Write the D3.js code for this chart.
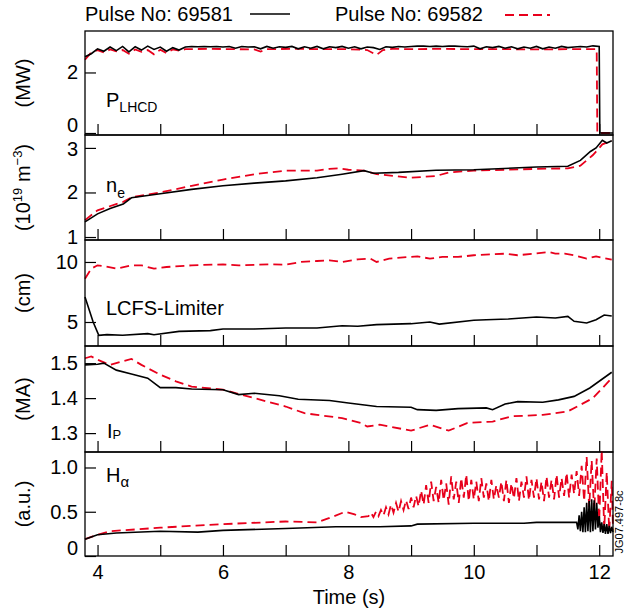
<!DOCTYPE html>
<html>
<head>
<meta charset="utf-8">
<script src="https://cdn.jsdelivr.net/npm/d3@7"></script>
<style>
	body { margin: 0; background: #fff; }
	text { font-family: 'Liberation Sans', Arial, Helvetica, sans-serif; fill: #000; }
</style>
</head>
<body>
<div id="viz"></div>
<script>
// time axis
var timeTicks = [4, 5, 6, 7, 8, 9, 10, 11, 12];
var timeDomain = [3.8, 12.22];

var pulseNames = ['Pulse No: 69581', 'Pulse No: 69582'];

// P_LHCD (MW), [time, value]
var plhcd69581 = [
	[3.8, 2.52], [3.9, 2.62], [4.0, 2.78], [4.1, 2.70], [4.2, 2.84], [4.3, 2.72], [4.4, 2.86], [4.5, 2.68],
	[4.6, 2.85], [4.7, 2.74], [4.8, 2.87], [4.9, 2.76], [5.0, 2.84], [5.1, 2.70], [5.2, 2.82], [5.3, 2.74],
	[5.4, 2.84], [5.5, 2.86], [5.6, 2.85], [5.7, 2.86], [5.8, 2.85], [5.9, 2.86], [6.0, 2.84], [6.1, 2.86],
	[6.2, 2.80], [6.3, 2.86], [6.4, 2.84], [6.5, 2.85], [6.6, 2.78], [6.7, 2.86], [6.8, 2.80], [6.9, 2.85],
	[7.0, 2.83], [7.1, 2.86], [7.2, 2.78], [7.3, 2.85], [7.4, 2.80], [7.5, 2.86], [7.6, 2.78], [7.7, 2.85],
	[7.8, 2.82], [7.9, 2.86], [8.0, 2.80], [8.1, 2.85], [8.2, 2.78], [8.3, 2.84], [8.4, 2.82], [8.5, 2.76],
	[8.6, 2.85], [8.7, 2.83], [8.8, 2.86], [8.9, 2.84], [9.0, 2.86], [9.1, 2.87], [9.2, 2.87], [9.3, 2.86],
	[9.4, 2.87], [9.5, 2.86], [9.6, 2.87], [9.7, 2.87], [9.8, 2.86], [9.9, 2.85], [10.0, 2.87], [10.1, 2.78],
	[10.2, 2.85], [10.3, 2.82], [10.4, 2.86], [10.5, 2.80], [10.6, 2.85], [10.7, 2.78], [10.8, 2.84], [10.9, 2.80],
	[11.0, 2.86], [11.1, 2.78], [11.2, 2.84], [11.3, 2.80], [11.4, 2.86], [11.5, 2.82], [11.6, 2.84], [11.7, 2.86],
	[11.8, 2.84], [11.9, 2.88], [12.0, 2.86], [12.01, 0], [12.22, 0]
];
var plhcd69582 = [
	[3.8, 2.42], [3.9, 2.66], [4.0, 2.74], [4.1, 2.66], [4.2, 2.76], [4.3, 2.70], [4.4, 2.74], [4.5, 2.62],
	[4.6, 2.76], [4.7, 2.68], [4.8, 2.74], [4.9, 2.60], [5.0, 2.75], [5.1, 2.64], [5.2, 2.76], [5.3, 2.72],
	[5.4, 2.77], [5.8, 2.78], [6.2, 2.77], [6.5, 2.76], [6.6, 2.69], [6.7, 2.77], [7.2, 2.78], [7.6, 2.77],
	[8.0, 2.77], [8.3, 2.74], [8.45, 2.58], [8.55, 2.74], [8.7, 2.78], [9.0, 2.77], [9.5, 2.78], [10.0, 2.77],
	[10.5, 2.77], [11.0, 2.76], [11.5, 2.77], [11.96, 2.77], [11.97, 0], [12.22, 0]
];

// n_e (10^19 m^-3)
var ne69581 = [
	[3.8, 1.34], [4.0, 1.52], [4.2, 1.64], [4.41, 1.74], [4.54, 1.88], [5.0, 1.97], [5.5, 2.07], [6.0, 2.15],
	[6.5, 2.21], [7.0, 2.26], [7.5, 2.33], [7.9, 2.41], [8.25, 2.49], [8.4, 2.43], [8.8, 2.45], [9.4, 2.5],
	[10.0, 2.51], [11.0, 2.57], [11.5, 2.59], [11.7, 2.72], [11.86, 2.92], [11.95, 3.0], [12.05, 3.17],
	[12.12, 3.11], [12.2, 3.16]
];
var ne69582 = [
	[3.8, 1.38], [4.0, 1.6], [4.41, 1.79], [4.54, 1.89], [5.0, 2.0], [5.5, 2.15], [6.0, 2.29], [6.5, 2.41],
	[7.0, 2.49], [7.5, 2.49], [7.7, 2.53], [7.85, 2.54], [8.0, 2.51], [8.25, 2.49], [8.45, 2.41], [9.0, 2.33],
	[9.4, 2.37], [9.6, 2.45], [10.0, 2.49], [11.0, 2.53], [11.5, 2.54], [11.7, 2.6], [11.9, 2.84],
	[12.05, 3.08], [12.2, 3.16]
];

// LCFS-Limiter (cm)
var lcfs69581 = [
	[3.8, 7.08], [3.93, 5.0], [4.02, 3.89], [4.15, 3.95], [4.4, 3.89], [4.8, 4.03], [4.9, 3.94], [5.3, 4.22],
	[5.8, 4.28], [6.0, 4.42], [6.5, 4.42], [7.0, 4.5], [7.5, 4.5], [7.9, 4.69], [8.15, 4.64], [8.45, 4.78],
	[9.0, 4.86], [9.3, 5.0], [9.45, 4.82], [10.0, 5.14], [10.2, 5.19], [10.55, 5.25], [11.0, 5.42],
	[11.3, 5.33], [11.5, 5.47], [11.6, 5.06], [11.8, 4.92], [11.95, 5.19], [12.08, 5.58], [12.2, 5.5]
];
var lcfs69582 = [
	[3.8, 8.61], [3.9, 9.44], [4.0, 9.72], [4.1, 9.65], [4.3, 9.44], [4.54, 9.72], [4.7, 9.72], [4.9, 9.44],
	[5.1, 9.58], [5.5, 9.72], [6.0, 9.8], [6.25, 9.72], [6.75, 9.8], [7.0, 9.78], [7.25, 10.0], [7.5, 10.08],
	[7.7, 10.14], [7.9, 10.0], [8.15, 10.22], [8.35, 10.28], [8.45, 10.0], [8.65, 10.28], [9.1, 10.47],
	[9.3, 10.28], [9.5, 10.42], [9.75, 10.42], [10.0, 10.56], [10.3, 10.64], [10.5, 10.69], [10.7, 10.56],
	[10.95, 10.69], [11.2, 10.83], [11.3, 10.69], [11.45, 10.69], [11.6, 10.56], [11.8, 10.28],
	[11.95, 10.47], [12.2, 10.19]
];

// I_P (MA)
var ip69581 = [
	[3.8, 1.495], [4.0, 1.497], [4.1, 1.5], [4.3, 1.48], [4.54, 1.469], [4.8, 1.457], [5.0, 1.43], [5.25, 1.43],
	[5.5, 1.426], [6.0, 1.424], [6.25, 1.41], [6.5, 1.414], [6.9, 1.407], [7.2, 1.397], [7.7, 1.393],
	[8.0, 1.386], [8.45, 1.376], [9.0, 1.374], [9.1, 1.367], [9.4, 1.365], [9.75, 1.37], [10.2, 1.372],
	[10.3, 1.367], [10.5, 1.383], [10.7, 1.39], [11.1, 1.388], [11.35, 1.395], [11.6, 1.405], [11.85, 1.429],
	[12.2, 1.474]
];
var ip69582 = [
	[3.8, 1.514], [3.9, 1.519], [4.0, 1.51], [4.2, 1.495], [4.54, 1.512], [4.7, 1.495], [5.0, 1.467],
	[5.25, 1.448], [5.5, 1.433], [6.0, 1.424], [6.5, 1.4], [7.0, 1.376], [7.3, 1.357], [7.5, 1.352],
	[7.9, 1.343], [8.2, 1.329], [8.3, 1.319], [8.5, 1.324], [9.0, 1.307], [9.3, 1.324], [9.6, 1.307],
	[9.9, 1.329], [10.3, 1.333], [10.6, 1.348], [11.1, 1.352], [11.5, 1.362], [11.9, 1.4], [12.2, 1.457]
];

// H_alpha (a.u.)
var ha69581 = [
	[3.8, 0.19], [4.0, 0.24], [4.3, 0.26], [5.0, 0.28], [5.6, 0.27], [6.0, 0.29], [7.0, 0.31], [7.8, 0.33],
	[8.5, 0.33], [9.0, 0.34], [9.1, 0.36], [10.0, 0.37], [10.8, 0.37], [11.0, 0.38], [11.62, 0.38],
	[11.64, 0.38], [11.66, 0.30], [11.68, 0.46], [11.70, 0.28], [11.72, 0.50], [11.74, 0.27], [11.76, 0.55],
	[11.78, 0.27], [11.80, 0.60], [11.82, 0.28], [11.84, 0.62], [11.86, 0.27], [11.88, 0.64], [11.90, 0.28],
	[11.92, 0.63], [11.94, 0.30], [11.96, 0.60], [11.98, 0.32], [12.00, 0.45], [12.02, 0.27], [12.04, 0.38],
	[12.06, 0.26], [12.08, 0.36], [12.10, 0.25], [12.12, 0.36], [12.14, 0.25], [12.16, 0.34], [12.18, 0.26],
	[12.20, 0.33], [12.22, 0.27]
];
var ha69582 = [
	[3.8, 0.19], [4.0, 0.24], [4.2, 0.28], [5.0, 0.32], [6.0, 0.36], [7.0, 0.39], [7.5, 0.38], [7.7, 0.43],
	[7.95, 0.50], [8.1, 0.47], [8.2, 0.44], [8.32, 0.45],
	[8.36, 0.49], [8.40, 0.44], [8.44, 0.50], [8.48, 0.45], [8.52, 0.52], [8.56, 0.46], [8.60, 0.55],
	[8.64, 0.47], [8.68, 0.58], [8.72, 0.49], [8.76, 0.60], [8.80, 0.50], [8.84, 0.62], [8.88, 0.52],
	[8.92, 0.63], [8.96, 0.53], [9.00, 0.66], [9.04, 0.55], [9.08, 0.68], [9.12, 0.56], [9.16, 0.74],
	[9.20, 0.58], [9.24, 0.80], [9.28, 0.60], [9.32, 0.84], [9.36, 0.62], [9.40, 0.78], [9.44, 0.60],
	[9.48, 0.86], [9.52, 0.63], [9.56, 0.82], [9.60, 0.58], [9.64, 0.90], [9.68, 0.64], [9.72, 0.84],
	[9.76, 0.60], [9.80, 0.88], [9.84, 0.66], [9.88, 0.92], [9.92, 0.62], [9.96, 0.86], [10.00, 0.64],
	[10.04, 0.84], [10.08, 0.62], [10.12, 0.88], [10.16, 0.66], [10.20, 0.82], [10.24, 0.62], [10.28, 0.86],
	[10.32, 0.64], [10.36, 0.80], [10.40, 0.66], [10.44, 0.84], [10.48, 0.62], [10.52, 0.86], [10.56, 0.60],
	[10.60, 0.82], [10.64, 0.65], [10.68, 0.88], [10.72, 0.62], [10.76, 0.84], [10.80, 0.66], [10.84, 0.90],
	[10.88, 0.63], [10.92, 0.86], [10.96, 0.66], [11.00, 0.88], [11.04, 0.64], [11.08, 0.84], [11.12, 0.62],
	[11.16, 0.90], [11.20, 0.66], [11.24, 0.86], [11.28, 0.64], [11.32, 0.92], [11.36, 0.66], [11.40, 0.88],
	[11.44, 0.68], [11.48, 0.94], [11.52, 0.66], [11.56, 0.92], [11.60, 0.70], [11.64, 0.96], [11.68, 0.68],
	[11.72, 1.02], [11.76, 0.62], [11.80, 1.12], [11.84, 0.55], [11.88, 1.08], [11.92, 0.50], [11.96, 1.10],
	[12.00, 0.40], [12.04, 1.20], [12.08, 0.30], [12.12, 0.95], [12.16, 0.28], [12.20, 0.85], [12.22, 0.30]
];

// y tick values per panel
var plhcdTicks = [0, 2];
var neTicks = [1, 2, 3];
var lcfsTicks = [5, 10];
var ipTicks = [1.3, 1.4, 1.5];
var haTicks = [0, 0.5, 1.0];

var w = 624,
	h = 610,
	plotLeft = 85,
	plotRight = 613,
	black = '#000',
	red = '#e8001c';

var panels = [
	{top: 31, bottom: 135, domain: [-0.066, 3.37], ticks: plhcdTicks, fmt: d3.format('d'),
		unit: ['(MW)'], name: ['P', 'LHCD'], nameX: 106, nameY: 107, subDy: 5, subSize: 14,
		data: [plhcd69581, plhcd69582], shift: {0: -8}},
	{top: 135, bottom: 240, domain: [0.933, 3.29], ticks: neTicks, fmt: d3.format('d'),
		unit: 'ne', name: ['n', 'e'], nameX: 106, nameY: 192, subDy: 6, subSize: 14,
		data: [ne69581, ne69582], shift: {3: 1}},
	{top: 240, bottom: 346, domain: [3.0, 11.83], ticks: lcfsTicks, fmt: d3.format('d'),
		unit: ['(cm)'], name: ['LCFS-Limiter'], nameX: 106, nameY: 315,
		data: [lcfs69581, lcfs69582]},
	{top: 346, bottom: 452, domain: [1.246, 1.549], ticks: ipTicks, fmt: d3.format('.1f'),
		unit: ['(MA)'], name: ['I', 'P'], nameX: 107, nameY: 438, subDy: 1, subSize: 13,
		data: [ip69581, ip69582]},
	{top: 452, bottom: 556, domain: [0, 1.175], ticks: haTicks, fmt: function (d) { return d === 0 ? '0' : d3.format('.1f')(d); },
		unit: ['(a.u.)'], name: ['H', '\u03b1'], nameX: 106, nameY: 482, subDy: 5, subSize: 15,
		data: [ha69581, ha69582], shift: {0: -8}}
];

var svg = d3.select('#viz')
	.append('svg')
	.attr('width', w)
	.attr('height', h);

var x = d3.scaleLinear().domain(timeDomain).range([plotLeft, plotRight]);

panels.forEach(function (p, pi) {
	var y = d3.scaleLinear().domain(p.domain).range([p.bottom, p.top]);
	var g = svg.append('g').attr('class', 'panel');

	var line = d3.line()
		.x(function (d) { return x(d[0]); })
		.y(function (d) { return y(d[1]); });

	// red dashed first so the black trace sits on top
	g.append('path')
		.datum(p.data[1])
		.attr('d', line)
		.style('fill', 'none')
		.style('stroke', red)
		.style('stroke-width', 1.8)
		.style('stroke-dasharray', '9,5');

	g.append('path')
		.datum(p.data[0])
		.attr('d', line)
		.style('fill', 'none')
		.style('stroke', black)
		.style('stroke-width', 1.6);

	// time ticks, inward
	var xAxis = d3.axisBottom(x)
		.tickValues(timeTicks)
		.tickSize(-11)
		.tickPadding(9)
		.tickFormat(function (d) {
			return (pi === panels.length - 1 && d % 2 === 0) ? d : '';
		});
	var xg = g.append('g')
		.attr('transform', 'translate(0,' + p.bottom + ')')
		.call(xAxis);
	xg.select('.domain').remove();
	xg.selectAll('line').style('stroke', '#000').style('stroke-width', 1.2);
	xg.selectAll('text').style('font-size', '20px').attr('fill', '#000');

	var yAxis = d3.axisLeft(y)
		.tickValues(p.ticks)
		.tickSize(-11)
		.tickPadding(7)
		.tickFormat(p.fmt);
	var yg = g.append('g')
		.attr('transform', 'translate(' + plotLeft + ',0)')
		.call(yAxis);
	yg.select('.domain').remove();
	yg.selectAll('line').style('stroke', '#000').style('stroke-width', 1.2);
	yg.selectAll('text').style('font-size', '20px').attr('fill', '#000')
		.attr('dy', function (d) {
			var s = (p.shift && p.shift[d]) || 0;
			return (0.32 + s / 20) + 'em';
		});

	// frame
	g.append('rect')
		.attr('x', plotLeft)
		.attr('y', p.top)
		.attr('width', plotRight - plotLeft)
		.attr('height', p.bottom - p.top)
		.style('fill', 'none')
		.style('stroke', '#000')
		.style('stroke-width', 1.3);

	// quantity label inside the panel
	var nt = g.append('text')
		.attr('x', p.nameX)
		.attr('y', p.nameY)
		.style('font-size', '20px')
		.text(p.name[0]);
	if (p.name.length > 1) {
		nt.append('tspan')
			.attr('dy', p.subDy)
			.style('font-size', p.subSize + 'px')
			.text(p.name[1]);
	}

	// unit label, rotated
	var cy = (p.top + p.bottom) / 2;
	var ut = g.append('text')
		.attr('transform', 'translate(30,' + cy + ') rotate(-90)')
		.attr('text-anchor', 'middle')
		.style('font-size', '20px');
	if (p.unit === 'ne') {
		ut.append('tspan').text('(10');
		ut.append('tspan').attr('dy', -8).style('font-size', '13px').text('19');
		ut.append('tspan').attr('dy', 8).text(' m');
		ut.append('tspan').attr('dy', -8).style('font-size', '13px').text('\u22123');
		ut.append('tspan').attr('dy', 8).text(')');
	} else {
		ut.text(p.unit[0]);
	}
});

svg.append('text')
	.attr('x', (plotLeft + plotRight) / 2)
	.attr('y', 604)
	.attr('text-anchor', 'middle')
	.style('font-size', '20px')
	.text('Time (s)');

// legend
var legend = svg.append('g').attr('class', 'legend');
legend.append('text').attr('x', 85).attr('y', 21).style('font-size', '20px').text(pulseNames[0]);
legend.append('line').attr('x1', 250).attr('x2', 290).attr('y1', 14).attr('y2', 14)
	.style('stroke', black).style('stroke-width', 1.6);
legend.append('text').attr('x', 335).attr('y', 21).style('font-size', '20px').text(pulseNames[1]);
legend.append('line').attr('x1', 505).attr('x2', 550).attr('y1', 15).attr('y2', 15)
	.style('stroke', red).style('stroke-width', 1.8).style('stroke-dasharray', '9,5');

// figure id on the right edge
svg.append('text')
	.attr('transform', 'translate(623,522) rotate(-90)')
	.attr('text-anchor', 'middle')
	.style('font-size', '11px')
	.text('JG07.497-8c');
</script>
</body>
</html>
